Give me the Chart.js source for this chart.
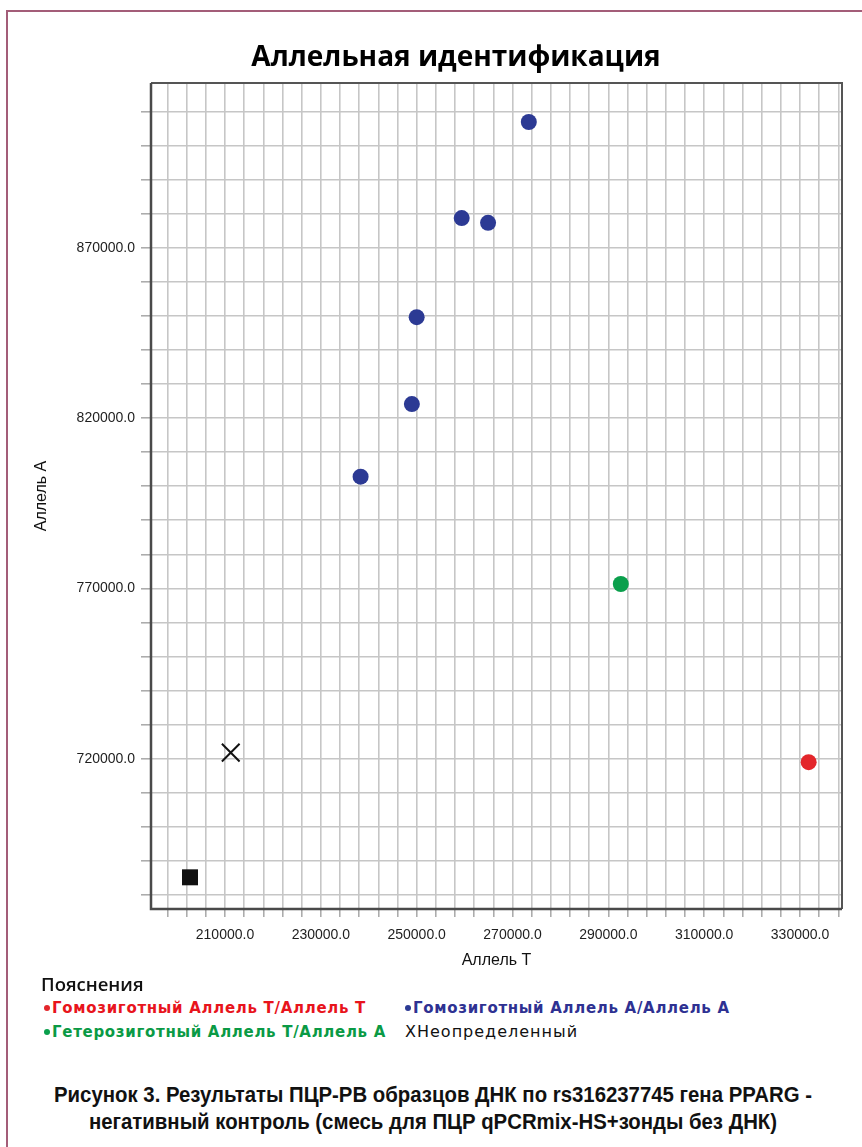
<!DOCTYPE html>
<html>
<head>
<meta charset="utf-8">
<script src="https://cdn.jsdelivr.net/npm/chart.js@4.4.1/dist/chart.umd.min.js"></script>
<style>
html,body{margin:0;padding:0;width:862px;height:1147px;overflow:hidden;background:#fff;}
#wrap{position:relative;width:862px;height:1147px;overflow:hidden;background:#fff;}
#frameTop{position:absolute;left:6px;top:10px;width:856px;height:2px;background:#a35d78;}
#frameLeft{position:absolute;left:6px;top:10px;width:2px;height:1137px;background:#a35d78;}
#cv{position:absolute;left:0;top:0;}
#legendTitle{position:absolute;left:41px;top:970px;font-family:"Open Sans",sans-serif;font-weight:600;font-size:18.5px;line-height:27px;color:#111;}
.lgItem{position:absolute;height:20px;line-height:20px;font-family:"DejaVu Sans",sans-serif;font-weight:bold;font-size:15px;letter-spacing:0.7px;white-space:nowrap;}
.lgDot{display:inline-block;width:6px;height:6px;border-radius:50%;margin-right:2px;vertical-align:middle;position:relative;top:-1px;}
.lgX{font-family:"DejaVu Sans",sans-serif;font-weight:normal;}
#caption{position:absolute;left:0;top:1082px;width:866px;text-align:center;font-family:"Liberation Sans",Arial,sans-serif;font-weight:bold;font-size:21.5px;line-height:27px;color:#111;transform:scaleX(0.947);transform-origin:433px 0;}
</style>
</head>
<body>
<div id="wrap">
  <canvas id="cv" width="912" height="975" style="width:912px;height:975px;"></canvas>
  <div id="frameTop"></div>
  <div id="frameLeft"></div>
  <div id="legendTitle"></div>
  <div id="legend"></div>
  <div id="caption"></div>
</div>
<script>
// ---- texts ----
const chartTitle = 'Аллельная идентификация';
const xAxisTitle = 'Аллель Т';
const yAxisTitle = 'Аллель А';
const legendTitle = 'Пояснения';
const captionLines = [
  'Рисунок 3. Результаты ПЦР-РВ образцов ДНК по rs316237745 гена PPARG -',
  'негативный контроль (смесь для ПЦР qPCRmix-HS+зонды без ДНК)'
];

// ---- series ----
const seriesNames = [
  'Гомозиготный Аллель Т/Аллель Т',
  'Гомозиготный Аллель А/Аллель А',
  'Гетерозиготный Аллель Т/Аллель А',
  'Неопределенный'
];
const ntcName = 'Отрицательный контроль';

const homoT_x = [331800];
const homoT_y = [719000];

const homoA_x = [273400, 259400, 264900, 250000, 249000, 238300];
const homoA_y = [906900, 878700, 877300, 849600, 824100, 802800];

const hetero_x = [292600];
const hetero_y = [771300];

const undet_x = [211200];
const undet_y = [721800];

const ntc_x = [202700];
const ntc_y = [685200];

// ---- axes / ticks ----
const xTickLabels = [210000, 230000, 250000, 270000, 290000, 310000, 330000];
const yTickLabels = [720000, 770000, 820000, 870000];
const xGridStep = 4000;
const yGridStep = 10000;
const xMin = 194560, xMax = 338760;
const yMin = 675900, yMax = 918340;

// ---- styles ----
const seriesColors = ['#e3262b', '#2c3a94', '#0a9f4c', '#111111'];
const legendTextColors = ['#e8141c', '#2e3192', '#0a9a45', '#111111'];

function gridValues(anchor, step, min, max) {
  const out = [];
  let v = anchor;
  while (v - step >= min) v -= step;
  for (; v <= max; v += step) out.push(v);
  return out;
}
const xGridValues = gridValues(xTickLabels[0], xGridStep, xMin, xMax);
const yGridValues = gridValues(yTickLabels[0], yGridStep, yMin, yMax);

const pts = (xs, ys) => xs.map((x, i) => ({x: x, y: ys[i]}));

const framePlugin = {
  id: 'frame',
  afterDatasetsDraw(chart) {
    const {ctx, chartArea: a} = chart;
    ctx.save();
    ctx.strokeStyle = '#555555';
    ctx.lineWidth = 2;
    ctx.beginPath();
    ctx.moveTo(a.left, a.top); ctx.lineTo(a.right, a.top); ctx.lineTo(a.right, a.bottom);
    ctx.stroke();
    ctx.strokeStyle = '#4a4a4a';
    ctx.lineWidth = 2.5;
    ctx.beginPath();
    ctx.moveTo(a.left, a.top); ctx.lineTo(a.left, a.bottom); ctx.lineTo(a.right, a.bottom);
    ctx.stroke();
    ctx.restore();
  }
};

const tickFont = {family: '"Liberation Sans", Arial, sans-serif', size: 14};
const titleFont = {family: '"Liberation Sans", Arial, sans-serif', size: 16};

new Chart(document.getElementById('cv'), {
  type: 'scatter',
  data: {
    datasets: [
      {label: seriesNames[0], data: pts(homoT_x, homoT_y), pointStyle: 'circle', pointRadius: 8,
       backgroundColor: seriesColors[0], borderColor: seriesColors[0], borderWidth: 0},
      {label: seriesNames[1], data: pts(homoA_x, homoA_y), pointStyle: 'circle', pointRadius: 8,
       backgroundColor: seriesColors[1], borderColor: seriesColors[1], borderWidth: 0},
      {label: seriesNames[2], data: pts(hetero_x, hetero_y), pointStyle: 'circle', pointRadius: 8,
       backgroundColor: seriesColors[2], borderColor: seriesColors[2], borderWidth: 0},
      {label: seriesNames[3], data: pts(undet_x, undet_y), pointStyle: 'crossRot', pointRadius: 12.5,
       backgroundColor: seriesColors[3], borderColor: seriesColors[3], borderWidth: 2},
      {label: ntcName, data: pts(ntc_x, ntc_y), pointStyle: 'rect', pointRadius: 11.3,
       backgroundColor: '#111111', borderColor: '#111111', borderWidth: 0}
    ]
  },
  options: {
    responsive: false,
    animation: false,
    events: [],
    layout: {padding: {top: 0, left: 70, right: 70, bottom: 0}},
    plugins: {
      legend: {display: false},
      tooltip: {enabled: false},
      title: {
        display: true,
        text: chartTitle,
        color: '#000',
        font: {family: '"Open Sans", sans-serif', size: 28, weight: 'bold'},
        padding: {top: 41.5, bottom: 7.9}
      }
    },
    scales: {
      x: {
        type: 'linear',
        min: xMin, max: xMax,
        afterBuildTicks: (axis) => { axis.ticks = xGridValues.map(v => ({value: v})); },
        afterFit: (axis) => { axis.height = 66; },
        ticks: {
          autoSkip: false, maxRotation: 0, minRotation: 0,
          padding: 10, color: '#1e1e1e', font: tickFont,
          callback: (v) => xTickLabels.includes(v) ? v.toFixed(1) : ''
        },
        grid: {color: '#c6c6c6', lineWidth: 1.6, drawTicks: true, tickLength: 8, tickColor: '#a8a8a8', tickWidth: 1.5},
        border: {display: false},
        title: {display: true, text: xAxisTitle, color: '#111', font: titleFont, padding: {top: 4, bottom: 4.5}}
      },
      y: {
        type: 'linear',
        min: yMin, max: yMax,
        afterBuildTicks: (axis) => { axis.ticks = yGridValues.map(v => ({value: v})); },
        afterFit: (axis) => { axis.width = 81; },
        ticks: {
          autoSkip: false, padding: 6, color: '#1e1e1e', font: tickFont,
          callback: (v) => yTickLabels.includes(v) ? v.toFixed(1) : ''
        },
        grid: {color: '#c6c6c6', lineWidth: 1.6, drawTicks: true, tickLength: 10, tickColor: '#a8a8a8', tickWidth: 1.5},
        border: {display: false},
        title: {display: true, text: yAxisTitle, color: '#111', font: titleFont, padding: {top: -37.6, bottom: 4}}
      }
    }
  },
  plugins: [framePlugin]
});

// ---- HTML legend and caption ----
document.getElementById('legendTitle').textContent = legendTitle;
const legendCols = [44, 405];
const legendRows = [998, 1022];
const legendEl = document.getElementById('legend');
seriesNames.forEach((name, i) => {
  const item = document.createElement('div');
  item.className = 'lgItem';
  item.style.left = legendCols[i % 2] + 'px';
  item.style.top = legendRows[Math.floor(i / 2)] + 'px';
  item.style.color = legendTextColors[i];
  if (i === 3) {
    const x = document.createElement('span');
    x.className = 'lgX';
    x.textContent = 'X';
    item.appendChild(x);
    item.style.fontWeight = 'normal';
    item.style.fontSize = '16px';
    item.style.letterSpacing = '1px';
  } else {
    const d = document.createElement('span');
    d.className = 'lgDot';
    d.style.background = seriesColors[i];
    item.appendChild(d);
  }
  item.appendChild(document.createTextNode(name));
  legendEl.appendChild(item);
});
const cap = document.getElementById('caption');
captionLines.forEach((line, i) => {
  if (i) cap.appendChild(document.createElement('br'));
  cap.appendChild(document.createTextNode(line));
});
</script>
</body>
</html>
